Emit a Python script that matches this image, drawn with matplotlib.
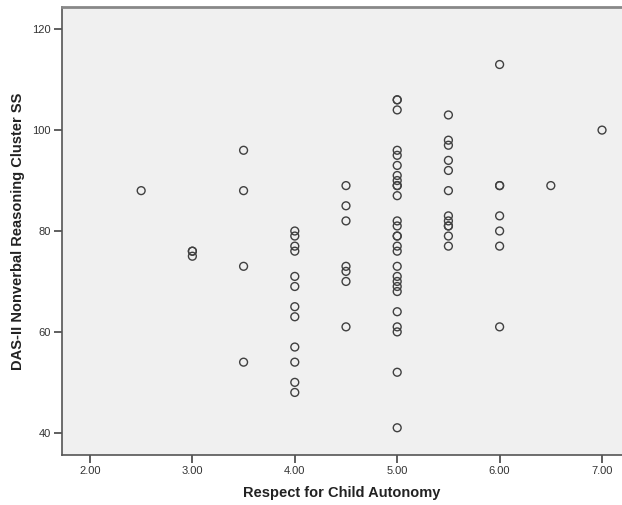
import matplotlib
matplotlib.use("Agg")
import matplotlib.pyplot as plt

# respect for child autonomy scores and the matching DAS-II nonverbal reasoning SS
autonomy_levels = [2.5, 3.0, 3.5, 4.0, 4.5, 5.0, 5.5, 6.0, 6.5, 7.0]
scores_by_level = [
    [88],
    [76, 76, 75],
    [96, 88, 73, 54],
    [80, 79, 77, 76, 71, 69, 65, 63, 57, 54, 50, 48],
    [89, 85, 82, 73, 72, 70, 61],
    [106, 106, 104, 96, 95, 93, 91, 90, 89, 89, 87, 82, 81, 79, 79, 77, 76,
     73, 71, 70, 69, 68, 64, 61, 60, 52, 41],
    [103, 98, 97, 94, 92, 88, 83, 82, 81, 81, 79, 77],
    [113, 89, 89, 83, 80, 77, 61],
    [89],
    [100],
]
x_ticks = [2.0, 3.0, 4.0, 5.0, 6.0, 7.0]
y_ticks = [40, 60, 80, 100, 120]

x_vals = []
y_vals = []
for level, scores in zip(autonomy_levels, scores_by_level):
    x_vals += [level] * len(scores)
    y_vals += scores

plt.rcParams["font.family"] = ["Liberation Sans", "DejaVu Sans"]

fig = plt.figure(figsize=(6.22, 5.05), dpi=100)
ax = fig.add_axes([62 / 622, 50 / 505, 560 / 622, 448 / 505])
ax.set_facecolor("#f0f0f0")

ax.scatter(x_vals, y_vals, s=32, facecolors="none", edgecolors="#404040",
           linewidths=1.0, zorder=3)

ax.set_xlim(1.727, 7.195)
ax.set_ylim(35.6, 124.4)
ax.set_xticks(x_ticks)
ax.set_xticklabels([f"{t:.2f}" for t in x_ticks])
ax.set_yticks(y_ticks)

ax.tick_params(axis="both", direction="out", length=6, width=1.2,
               colors="#444444", labelsize=8, labelcolor="#333333", pad=2)

for side in ["left", "bottom"]:
    ax.spines[side].set_color("#555555")
    ax.spines[side].set_linewidth(1.2)
ax.spines["top"].set_color("#888888")
ax.spines["top"].set_linewidth(2)
ax.spines["right"].set_visible(False)

ax.set_xlabel("Respect for Child Autonomy", fontsize=10.5, fontweight="bold",
              color="#222222", labelpad=7)
ax.set_ylabel("DAS-II Nonverbal Reasoning Cluster SS", fontsize=10.5,
              fontweight="bold", color="#222222", labelpad=5)

fig.savefig("out.png", dpi=100)
